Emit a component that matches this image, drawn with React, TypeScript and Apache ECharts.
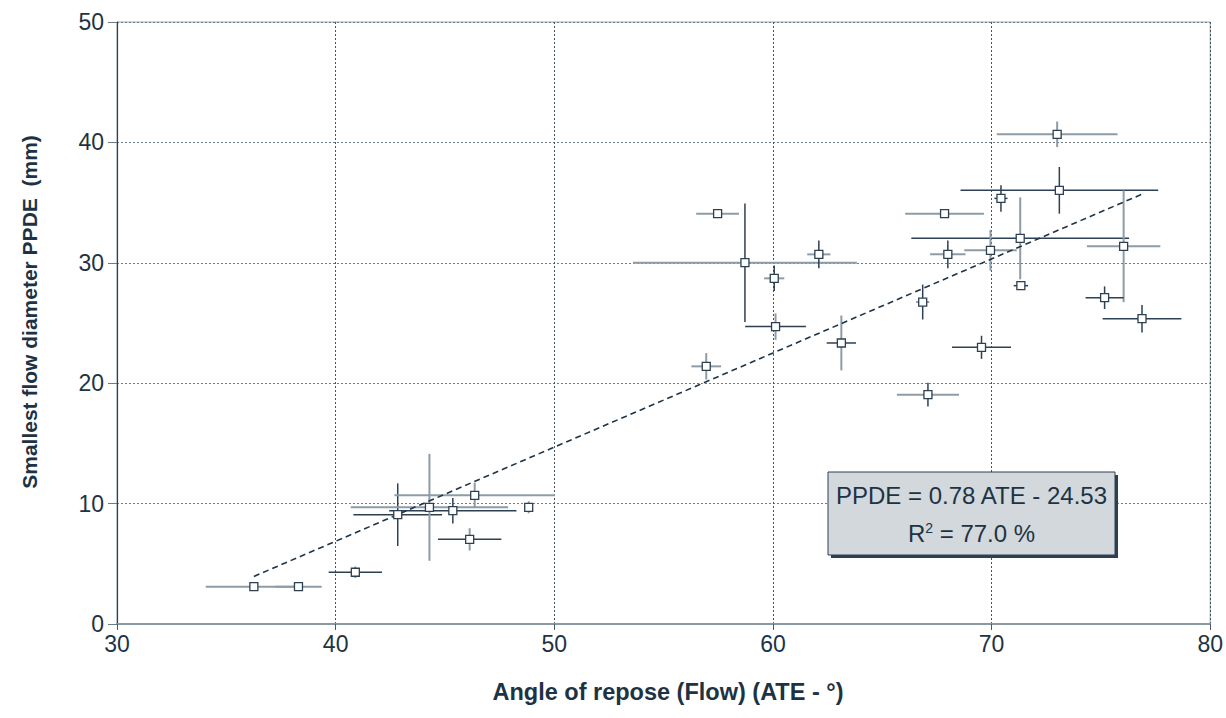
import React, { useEffect, useRef } from "react";
import * as echarts from "echarts";

// Angle of repose (ATE, °)
const ate = [36.26, 38.3, 40.9, 42.84, 44.29, 45.36, 46.36, 48.83, 46.13, 57.47, 58.72, 60.06, 60.12, 56.95, 62.1, 63.13, 73.0, 73.1, 70.43, 67.85, 71.31, 69.95, 68.0, 76.04, 71.34, 66.85, 75.17, 76.88, 69.54, 67.09];
// Smallest flow diameter (PPDE, mm)
const ppde = [3.1, 3.1, 4.3, 9.08, 9.69, 9.41, 10.69, 9.69, 7.03, 34.08, 30.01, 28.71, 24.7, 21.4, 30.7, 23.34, 40.67, 36.02, 35.35, 34.08, 32.03, 31.04, 30.7, 31.37, 28.1, 26.74, 27.1, 25.36, 22.98, 19.05];
// error half-widths
const ateErr = [2.2, 1.06, 1.22, 2.03, 3.6, 2.91, 3.67, 0, 1.45, 0.98, 5.12, 0.46, 1.39, 0.68, 0.53, 0.67, 2.76, 4.52, 0.3, 1.8, 4.98, 1.2, 0.81, 1.68, 0.33, 0.3, 0.87, 1.8, 1.35, 1.42];
const ppdeErr = [0, 0, 0.48, 2.6, 4.44, 1.06, 1.05, 0.5, 0.93, 0, 4.92, 1.06, 1.1, 1.1, 1.15, 2.28, 1.06, 1.94, 1.1, 0, 3.4, 1.69, 1.16, 4.64, 0, 1.45, 0.94, 1.14, 0.96, 0.98];
// bar tone: 1 = dark, 0 = grey
const ateErrTone = [0, 0, 1, 1, 0, 1, 0, 0, 1, 0, 0, 0, 1, 0, 0, 1, 0, 1, 1, 0, 1, 0, 0, 0, 1, 0, 1, 1, 1, 0];
const ppdeErrTone = [0, 0, 0, 1, 0, 1, 0, 0, 0, 0, 1, 1, 0, 0, 1, 0, 0, 1, 1, 0, 0, 0, 1, 0, 0, 1, 1, 1, 1, 1];

// trend line endpoints (ATE, PPDE)
const trendX = [36.26, 76.88];
const trendY = [3.95, 35.7];

const xTicks = { min: 30, max: 80, interval: 10 };
const yTicks = { min: 0, max: 50, interval: 10 };

const equationText = "PPDE = 0.78 ATE - 24.53";
const r2Text = "77.0 %";

const DARK = "#2c4052";
const GREY = "#8d9ca7";
const TEXT = "#1d3344";

export default function App() {
  const ref = useRef<HTMLDivElement>(null);
  useEffect(() => {
    if (!ref.current) return;
    const chart = echarts.init(ref.current, null, { renderer: "svg" });
    const errData = ate.map((x, i) => [x, ppde[i], ateErr[i], ppdeErr[i], ateErrTone[i], ppdeErrTone[i]]);
    const pts = ate.map((x, i) => [x, ppde[i]]);
    const font = "'Liberation Sans', Arial, sans-serif";
    chart.setOption({
      animation: false,
      backgroundColor: "#ffffff",
      grid: { left: 117, right: 14, top: 22, bottom: 94, show: true, borderColor: "#9aa7b0", borderWidth: 1, backgroundColor: "transparent" },
      xAxis: {
        type: "value",
        min: xTicks.min,
        max: xTicks.max,
        interval: xTicks.interval,
        axisLine: { show: true, onZero: false, lineStyle: { color: "#8a99a4", width: 2 } },
        axisTick: { show: true, length: 6, lineStyle: { color: "#4a5a66", width: 1 } },
        axisLabel: { color: TEXT, fontSize: 23, fontFamily: font, margin: 8 },
        splitLine: { show: true, lineStyle: { color: "#44545f", type: [2, 2], width: 1 } },
      },
      yAxis: {
        type: "value",
        min: yTicks.min,
        max: yTicks.max,
        interval: yTicks.interval,
        axisLine: { show: true, onZero: false, lineStyle: { color: DARK, width: 1.2 } },
        axisTick: { show: true, length: 9, lineStyle: { color: "#6b7a85", width: 1 } },
        axisLabel: { color: TEXT, fontSize: 23, fontFamily: font, margin: 13 },
        splitLine: { show: true, lineStyle: { color: "#6d7c87", type: [2, 2], width: 1 } },
      },
      graphic: [
        {
          type: "text",
          x: 668,
          y: 692,
          style: { text: "Angle of repose (Flow) (ATE - °)", fill: TEXT, font: `bold 23.5px ${font}`, align: "center", verticalAlign: "middle" },
        },
        {
          type: "text",
          x: 29,
          y: 312,
          rotation: Math.PI / 2,
          style: { text: "Smallest flow diameter PPDE  (mm)", fill: TEXT, font: `bold 21px ${font}`, align: "center", verticalAlign: "middle" },
        },
        { type: "rect", shape: { x: 831, y: 475, width: 287, height: 83 }, style: { fill: "#2c4052" }, z: 100 },
        { type: "rect", shape: { x: 828, y: 472, width: 287, height: 83 }, style: { fill: "#d3d8dc", stroke: "#2c4052", lineWidth: 1 }, z: 101 },
        {
          type: "text", x: 971.5, y: 495, z: 102,
          style: { text: equationText, fill: TEXT, font: `24px ${font}`, align: "center", verticalAlign: "middle" },
        },
        {
          type: "text", x: 971.5, y: 533, z: 102,
          style: {
            text: "R{sup|2} = " + r2Text,
            fill: TEXT,
            font: `24px ${font}`,
            align: "center",
            verticalAlign: "middle",
            rich: {
              sup: { fontSize: 14, fontFamily: font, fill: TEXT, verticalAlign: "top", lineHeight: 24, padding: [0, 0, 0, 0] },
            },
          },
        },
      ],
      series: [
        {
          type: "custom",
          z: 2,
          data: errData,
          encode: { x: 0, y: 1 },
          renderItem: (params: any, api: any) => {
            const x = api.value(0), y = api.value(1), xe = api.value(2), ye = api.value(3);
            const ht = api.value(4), vt = api.value(5);
            const children: any[] = [];
            if (ye > 0) {
              const a = api.coord([x, y - ye]);
              const b = api.coord([x, y + ye]);
              children.push({ type: "line", shape: { x1: a[0], y1: a[1], x2: b[0], y2: b[1] }, style: { stroke: vt ? DARK : GREY, lineWidth: vt ? 1.5 : 2 } });
            }
            if (xe > 0) {
              const a = api.coord([x - xe, y]);
              const b = api.coord([x + xe, y]);
              children.push({ type: "line", shape: { x1: a[0], y1: a[1], x2: b[0], y2: b[1] }, style: { stroke: ht ? DARK : GREY, lineWidth: ht ? 1.5 : 2 } });
            }
            return { type: "group", children };
          },
        },
        {
          type: "line",
          z: 3,
          data: trendX.map((x, i) => [x, trendY[i]]),
          symbol: "none",
          lineStyle: { color: "#1f3547", width: 1.6, type: [6, 4] },
        },
        {
          type: "scatter",
          z: 4,
          data: pts,
          symbol: "rect",
          symbolSize: 8,
          itemStyle: { color: "#ffffff", borderColor: DARK, borderWidth: 1.3, opacity: 1 },
        },
      ],
    });
    return () => chart.dispose();
  }, []);
  return <div ref={ref} style={{ position: "absolute", left: 0, top: 0, width: 1226, height: 718 }} />;
}
